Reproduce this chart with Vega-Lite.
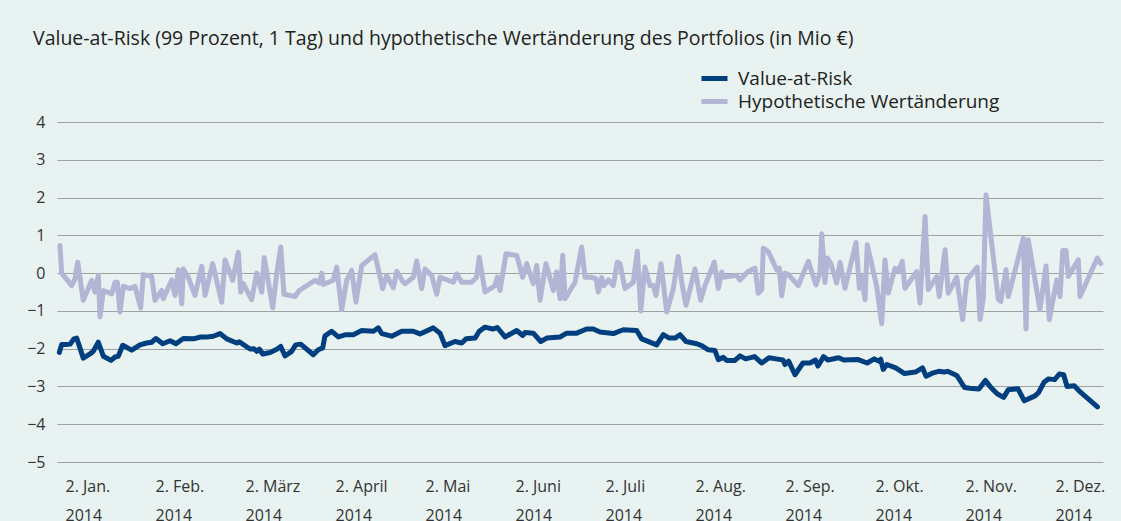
{
  "$schema": "https://vega.github.io/schema/vega-lite/v6.json",
  "autosize": "none",
  "width": 1046,
  "height": 340,
  "padding": {"left": 57, "top": 122, "right": 18, "bottom": 59},
  "background": "#e8f2f0",
  "config": {
    "view": {"stroke": null},
    "font": "Open Sans"
  },
  "title": {
    "text": "Value-at-Risk (99 Prozent, 1 Tag) und hypothetische Wertänderung des Portfolios (in Mio €)",
    "anchor": "start",
    "frame": "group",
    "dx": -24,
    "offset": 2,
    "baseline": "alphabetic",
    "fontSize": 19.5,
    "fontWeight": 500,
    "color": "#222222"
  },
  "data": {
    "values": [
      {"s":"H","t":-0.056,"v":0.73},{"s":"H","t":-0.037,"v":0},{"s":"H","t":0.074,"v":-0.33},{"s":"H","t":0.111,"v":-0.15},{"s":"H","t":0.141,"v":0.29},{"s":"H","t":0.203,"v":-0.72},{"s":"H","t":0.297,"v":-0.19},{"s":"H","t":0.333,"v":-0.5},{"s":"H","t":0.37,"v":-0.06},{"s":"H","t":0.389,"v":-1.16},{"s":"H","t":0.426,"v":-0.46},{"s":"H","t":0.519,"v":-0.55},{"s":"H","t":0.556,"v":-0.24},{"s":"H","t":0.581,"v":-0.24},{"s":"H","t":0.611,"v":-1.03},{"s":"H","t":0.648,"v":-0.35},{"s":"H","t":0.722,"v":-0.41},{"s":"H","t":0.778,"v":-0.35},{"s":"H","t":0.841,"v":-0.92},{"s":"H","t":0.87,"v":-0.04},{"s":"H","t":0.963,"v":-0.09},{"s":"H","t":1.0,"v":-0.72},{"s":"H","t":1.074,"v":-0.46},{"s":"H","t":1.092,"v":-0.68},{"s":"H","t":1.186,"v":-0.18},{"s":"H","t":1.222,"v":-0.59},{"s":"H","t":1.259,"v":0.09},{"s":"H","t":1.297,"v":-0.81},{"s":"H","t":1.314,"v":0.11},{"s":"H","t":1.37,"v":-0.11},{"s":"H","t":1.444,"v":-0.59},{"s":"H","t":1.519,"v":0.18},{"s":"H","t":1.556,"v":-0.59},{"s":"H","t":1.641,"v":0.25},{"s":"H","t":1.741,"v":-0.77},{"s":"H","t":1.778,"v":0.35},{"s":"H","t":1.863,"v":-0.19},{"s":"H","t":1.926,"v":0.55},{"s":"H","t":1.952,"v":-0.5},{"s":"H","t":1.981,"v":-0.28},{"s":"H","t":2.074,"v":-0.7},{"s":"H","t":2.13,"v":0},{"s":"H","t":2.186,"v":-0.5},{"s":"H","t":2.214,"v":0.41},{"s":"H","t":2.308,"v":-0.92},{"s":"H","t":2.352,"v":-0.02},{"s":"H","t":2.397,"v":0.69},{"s":"H","t":2.433,"v":-0.56},{"s":"H","t":2.556,"v":-0.62},{"s":"H","t":2.603,"v":-0.46},{"s":"H","t":2.778,"v":-0.19},{"s":"H","t":2.826,"v":-0.26},{"s":"H","t":2.852,"v":0},{"s":"H","t":2.87,"v":-0.3},{"s":"H","t":2.981,"v":-0.19},{"s":"H","t":3.019,"v":0.16},{"s":"H","t":3.074,"v":-0.97},{"s":"H","t":3.13,"v":-0.19},{"s":"H","t":3.186,"v":0.07},{"s":"H","t":3.233,"v":-0.77},{"s":"H","t":3.297,"v":0.2},{"s":"H","t":3.444,"v":0.49},{"s":"H","t":3.53,"v":-0.41},{"s":"H","t":3.574,"v":-0.06},{"s":"H","t":3.648,"v":-0.39},{"s":"H","t":3.686,"v":0.05},{"s":"H","t":3.759,"v":-0.24},{"s":"H","t":3.778,"v":-0.28},{"s":"H","t":3.87,"v":-0.11},{"s":"H","t":3.908,"v":0.32},{"s":"H","t":3.963,"v":-0.41},{"s":"H","t":4.0,"v":0.11},{"s":"H","t":4.074,"v":-0.06},{"s":"H","t":4.13,"v":-0.56},{"s":"H","t":4.167,"v":-0.11},{"s":"H","t":4.314,"v":-0.24},{"s":"H","t":4.352,"v":-0.02},{"s":"H","t":4.408,"v":-0.24},{"s":"H","t":4.519,"v":-0.24},{"s":"H","t":4.574,"v":-0.11},{"s":"H","t":4.603,"v":0.42},{"s":"H","t":4.667,"v":-0.5},{"s":"H","t":4.778,"v":-0.33},{"s":"H","t":4.803,"v":-0.11},{"s":"H","t":4.833,"v":-0.46},{"s":"H","t":4.9,"v":0.51},{"s":"H","t":5.019,"v":0.47},{"s":"H","t":5.086,"v":-0.11},{"s":"H","t":5.13,"v":0.25},{"s":"H","t":5.203,"v":-0.28},{"s":"H","t":5.241,"v":0.2},{"s":"H","t":5.278,"v":-0.72},{"s":"H","t":5.344,"v":0.25},{"s":"H","t":5.426,"v":-0.46},{"s":"H","t":5.463,"v":0.03},{"s":"H","t":5.5,"v":-0.68},{"s":"H","t":5.53,"v":0.47},{"s":"H","t":5.556,"v":-0.68},{"s":"H","t":5.667,"v":-0.24},{"s":"H","t":5.741,"v":0.69},{"s":"H","t":5.778,"v":-0.11},{"s":"H","t":5.852,"v":-0.11},{"s":"H","t":5.9,"v":-0.15},{"s":"H","t":5.926,"v":-0.5},{"s":"H","t":5.963,"v":-0.12},{"s":"H","t":5.989,"v":-0.33},{"s":"H","t":6.037,"v":-0.18},{"s":"H","t":6.092,"v":-0.33},{"s":"H","t":6.137,"v":0.29},{"s":"H","t":6.167,"v":0.25},{"s":"H","t":6.222,"v":-0.41},{"s":"H","t":6.314,"v":-0.24},{"s":"H","t":6.359,"v":0.58},{"s":"H","t":6.397,"v":-1.0},{"s":"H","t":6.444,"v":0.16},{"s":"H","t":6.5,"v":-0.33},{"s":"H","t":6.537,"v":-0.33},{"s":"H","t":6.567,"v":-0.59},{"s":"H","t":6.622,"v":0.25},{"s":"H","t":6.686,"v":-1.03},{"s":"H","t":6.759,"v":-0.41},{"s":"H","t":6.814,"v":0.44},{"s":"H","t":6.852,"v":-0.24},{"s":"H","t":6.9,"v":-0.85},{"s":"H","t":7.0,"v":0.11},{"s":"H","t":7.063,"v":-0.72},{"s":"H","t":7.111,"v":-0.33},{"s":"H","t":7.214,"v":0.29},{"s":"H","t":7.259,"v":-0.41},{"s":"H","t":7.297,"v":0.03},{"s":"H","t":7.314,"v":-0.11},{"s":"H","t":7.463,"v":-0.06},{"s":"H","t":7.5,"v":-0.18},{"s":"H","t":7.592,"v":0.05},{"s":"H","t":7.667,"v":0.13},{"s":"H","t":7.703,"v":-0.53},{"s":"H","t":7.741,"v":-0.44},{"s":"H","t":7.759,"v":0.66},{"s":"H","t":7.814,"v":0.57},{"s":"H","t":7.908,"v":0.09},{"s":"H","t":7.937,"v":0.13},{"s":"H","t":7.963,"v":-0.6},{"s":"H","t":8.0,"v":0},{"s":"H","t":8.037,"v":-0.04},{"s":"H","t":8.148,"v":-0.33},{"s":"H","t":8.259,"v":0.31},{"s":"H","t":8.344,"v":-0.31},{"s":"H","t":8.389,"v":0},{"s":"H","t":8.408,"v":1.04},{"s":"H","t":8.444,"v":-0.25},{"s":"H","t":8.47,"v":0.4},{"s":"H","t":8.508,"v":0.26},{"s":"H","t":8.574,"v":-0.26},{"s":"H","t":8.611,"v":0.28},{"s":"H","t":8.667,"v":-0.4},{"s":"H","t":8.789,"v":0.81},{"s":"H","t":8.826,"v":-0.4},{"s":"H","t":8.852,"v":-0.09},{"s":"H","t":8.889,"v":-0.7},{"s":"H","t":8.914,"v":0.75},{"s":"H","t":9.019,"v":-0.35},{"s":"H","t":9.074,"v":-1.34},{"s":"H","t":9.111,"v":0.35},{"s":"H","t":9.148,"v":-0.53},{"s":"H","t":9.222,"v":0.13},{"s":"H","t":9.259,"v":0.04},{"s":"H","t":9.303,"v":0.31},{"s":"H","t":9.333,"v":-0.4},{"s":"H","t":9.463,"v":0.04},{"s":"H","t":9.5,"v":-0.79},{"s":"H","t":9.556,"v":1.5},{"s":"H","t":9.592,"v":-0.44},{"s":"H","t":9.686,"v":-0.09},{"s":"H","t":9.714,"v":-0.62},{"s":"H","t":9.778,"v":0.62},{"s":"H","t":9.814,"v":-0.53},{"s":"H","t":9.908,"v":-0.11},{"s":"H","t":9.974,"v":-1.23},{"s":"H","t":10.019,"v":-0.18},{"s":"H","t":10.137,"v":0.16},{"s":"H","t":10.167,"v":-1.23},{"s":"H","t":10.203,"v":-0.66},{"s":"H","t":10.233,"v":2.07},{"s":"H","t":10.37,"v":-0.69},{"s":"H","t":10.397,"v":-0.75},{"s":"H","t":10.456,"v":0.09},{"s":"H","t":10.481,"v":-0.62},{"s":"H","t":10.648,"v":0.92},{"s":"H","t":10.678,"v":-1.48},{"s":"H","t":10.703,"v":0.88},{"s":"H","t":10.833,"v":-0.97},{"s":"H","t":10.9,"v":0.19},{"s":"H","t":10.937,"v":-1.23},{"s":"H","t":11.019,"v":-0.18},{"s":"H","t":11.056,"v":-0.62},{"s":"H","t":11.086,"v":0.6},{"s":"H","t":11.122,"v":0.6},{"s":"H","t":11.148,"v":-0.09},{"s":"H","t":11.259,"v":0.35},{"s":"H","t":11.278,"v":-0.62},{"s":"H","t":11.47,"v":0.4},{"s":"H","t":11.508,"v":0.25},
      {"s":"V","t":-0.063,"v":-2.1},{"s":"V","t":-0.037,"v":-1.89},{"s":"V","t":0.011,"v":-1.89},{"s":"V","t":0.056,"v":-1.88},{"s":"V","t":0.1,"v":-1.74},{"s":"V","t":0.13,"v":-1.72},{"s":"V","t":0.203,"v":-2.25},{"s":"V","t":0.278,"v":-2.14},{"s":"V","t":0.314,"v":-2.07},{"s":"V","t":0.37,"v":-1.83},{"s":"V","t":0.426,"v":-2.2},{"s":"V","t":0.511,"v":-2.31},{"s":"V","t":0.556,"v":-2.22},{"s":"V","t":0.592,"v":-2.2},{"s":"V","t":0.641,"v":-1.91},{"s":"V","t":0.741,"v":-2.04},{"s":"V","t":0.833,"v":-1.9},{"s":"V","t":0.908,"v":-1.85},{"s":"V","t":0.963,"v":-1.83},{"s":"V","t":1.011,"v":-1.73},{"s":"V","t":1.086,"v":-1.87},{"s":"V","t":1.167,"v":-1.79},{"s":"V","t":1.233,"v":-1.87},{"s":"V","t":1.314,"v":-1.73},{"s":"V","t":1.426,"v":-1.74},{"s":"V","t":1.508,"v":-1.69},{"s":"V","t":1.574,"v":-1.69},{"s":"V","t":1.648,"v":-1.67},{"s":"V","t":1.722,"v":-1.6},{"s":"V","t":1.797,"v":-1.74},{"s":"V","t":1.908,"v":-1.85},{"s":"V","t":1.937,"v":-1.82},{"s":"V","t":2.056,"v":-2.01},{"s":"V","t":2.1,"v":-2.0},{"s":"V","t":2.13,"v":-2.07},{"s":"V","t":2.159,"v":-2.01},{"s":"V","t":2.197,"v":-2.14},{"s":"V","t":2.278,"v":-2.1},{"s":"V","t":2.359,"v":-2.01},{"s":"V","t":2.397,"v":-1.94},{"s":"V","t":2.444,"v":-2.19},{"s":"V","t":2.519,"v":-2.07},{"s":"V","t":2.563,"v":-1.9},{"s":"V","t":2.619,"v":-1.88},{"s":"V","t":2.759,"v":-2.16},{"s":"V","t":2.814,"v":-2.03},{"s":"V","t":2.863,"v":-1.98},{"s":"V","t":2.889,"v":-1.66},{"s":"V","t":2.963,"v":-1.54},{"s":"V","t":3.037,"v":-1.69},{"s":"V","t":3.122,"v":-1.63},{"s":"V","t":3.203,"v":-1.63},{"s":"V","t":3.297,"v":-1.52},{"s":"V","t":3.426,"v":-1.54},{"s":"V","t":3.481,"v":-1.45},{"s":"V","t":3.519,"v":-1.6},{"s":"V","t":3.63,"v":-1.67},{"s":"V","t":3.741,"v":-1.54},{"s":"V","t":3.87,"v":-1.54},{"s":"V","t":3.944,"v":-1.61},{"s":"V","t":4.092,"v":-1.45},{"s":"V","t":4.167,"v":-1.59},{"s":"V","t":4.222,"v":-1.92},{"s":"V","t":4.333,"v":-1.81},{"s":"V","t":4.408,"v":-1.85},{"s":"V","t":4.456,"v":-1.74},{"s":"V","t":4.556,"v":-1.72},{"s":"V","t":4.603,"v":-1.54},{"s":"V","t":4.667,"v":-1.43},{"s":"V","t":4.752,"v":-1.48},{"s":"V","t":4.803,"v":-1.44},{"s":"V","t":4.889,"v":-1.69},{"s":"V","t":5.019,"v":-1.52},{"s":"V","t":5.086,"v":-1.65},{"s":"V","t":5.111,"v":-1.57},{"s":"V","t":5.203,"v":-1.59},{"s":"V","t":5.286,"v":-1.81},{"s":"V","t":5.352,"v":-1.72},{"s":"V","t":5.5,"v":-1.69},{"s":"V","t":5.574,"v":-1.59},{"s":"V","t":5.685,"v":-1.59},{"s":"V","t":5.796,"v":-1.48},{"s":"V","t":5.87,"v":-1.48},{"s":"V","t":5.944,"v":-1.56},{"s":"V","t":6.092,"v":-1.6},{"s":"V","t":6.203,"v":-1.5},{"s":"V","t":6.352,"v":-1.52},{"s":"V","t":6.408,"v":-1.74},{"s":"V","t":6.574,"v":-1.9},{"s":"V","t":6.648,"v":-1.63},{"s":"V","t":6.714,"v":-1.72},{"s":"V","t":6.778,"v":-1.72},{"s":"V","t":6.833,"v":-1.63},{"s":"V","t":6.9,"v":-1.81},{"s":"V","t":7.019,"v":-1.87},{"s":"V","t":7.074,"v":-1.92},{"s":"V","t":7.148,"v":-2.03},{"s":"V","t":7.222,"v":-2.05},{"s":"V","t":7.259,"v":-2.29},{"s":"V","t":7.314,"v":-2.23},{"s":"V","t":7.352,"v":-2.31},{"s":"V","t":7.444,"v":-2.31},{"s":"V","t":7.5,"v":-2.19},{"s":"V","t":7.563,"v":-2.27},{"s":"V","t":7.662,"v":-2.21},{"s":"V","t":7.742,"v":-2.38},{"s":"V","t":7.822,"v":-2.24},{"s":"V","t":7.9,"v":-2.27},{"s":"V","t":7.978,"v":-2.3},{"s":"V","t":8.0,"v":-2.42},{"s":"V","t":8.04,"v":-2.33},{"s":"V","t":8.111,"v":-2.69},{"s":"V","t":8.199,"v":-2.38},{"s":"V","t":8.278,"v":-2.38},{"s":"V","t":8.338,"v":-2.3},{"s":"V","t":8.366,"v":-2.46},{"s":"V","t":8.429,"v":-2.21},{"s":"V","t":8.477,"v":-2.3},{"s":"V","t":8.596,"v":-2.24},{"s":"V","t":8.654,"v":-2.3},{"s":"V","t":8.813,"v":-2.29},{"s":"V","t":8.912,"v":-2.38},{"s":"V","t":8.992,"v":-2.27},{"s":"V","t":9.04,"v":-2.33},{"s":"V","t":9.063,"v":-2.28},{"s":"V","t":9.091,"v":-2.55},{"s":"V","t":9.131,"v":-2.42},{"s":"V","t":9.23,"v":-2.51},{"s":"V","t":9.329,"v":-2.66},{"s":"V","t":9.449,"v":-2.62},{"s":"V","t":9.528,"v":-2.51},{"s":"V","t":9.568,"v":-2.73},{"s":"V","t":9.647,"v":-2.64},{"s":"V","t":9.707,"v":-2.6},{"s":"V","t":9.766,"v":-2.62},{"s":"V","t":9.806,"v":-2.6},{"s":"V","t":9.908,"v":-2.71},{"s":"V","t":9.996,"v":-3.03},{"s":"V","t":10.054,"v":-3.05},{"s":"V","t":10.154,"v":-3.07},{"s":"V","t":10.226,"v":-2.84},{"s":"V","t":10.293,"v":-3.04},{"s":"V","t":10.361,"v":-3.2},{"s":"V","t":10.429,"v":-3.29},{"s":"V","t":10.48,"v":-3.09},{"s":"V","t":10.588,"v":-3.06},{"s":"V","t":10.659,"v":-3.38},{"s":"V","t":10.778,"v":-3.25},{"s":"V","t":10.818,"v":-3.16},{"s":"V","t":10.877,"v":-2.89},{"s":"V","t":10.929,"v":-2.8},{"s":"V","t":10.996,"v":-2.82},{"s":"V","t":11.048,"v":-2.67},{"s":"V","t":11.096,"v":-2.69},{"s":"V","t":11.134,"v":-3.0},{"s":"V","t":11.214,"v":-2.98},{"s":"V","t":11.273,"v":-3.13},{"s":"V","t":11.472,"v":-3.54}
    ]
  },
  "mark": {"type": "line", "strokeWidth": 5, "strokeJoin": "round", "strokeCap": "round"},
  "encoding": {
    "x": {
      "field": "t",
      "type": "quantitative",
      "scale": {"domain": [-0.0889, 11.5333], "nice": false, "zero": false},
      "axis": {
        "title": null,
        "values": [0,1,2,3,4,5,6,7,8,9,10,11],
        "labelExpr": "[['2. Jan.','2. Feb.','2. März','2. April','2. Mai','2. Juni','2. Juli','2. Aug.','2. Sep.','2. Okt.','2. Nov.','2. Dez.'][datum.value], '2014']",
        "labelAlign": "left",
        "labelBaseline": "top",
        "labelPadding": 16,
        "labelLineHeight": 29,
        "labelFontSize": 16,
        "labelColor": "#333333",
        "labelOverlap": false,
        "labelFlush": false,
        "labelBound": false,
        "grid": false,
        "domain": false,
        "ticks": false
      }
    },
    "y": {
      "field": "v",
      "type": "quantitative",
      "scale": {"domain": [-5, 4], "nice": false, "zero": false},
      "axis": {
        "title": null,
        "values": [-5,-4,-3,-2,-1,0,1,2,3,4],
        "grid": true,
        "gridColor": "#9da3a2",
        "gridWidth": 1,
        "domain": false,
        "ticks": false,
        "labelPadding": 12,
        "labelFontSize": 16,
        "labelColor": "#333333"
      }
    },
    "color": {
      "field": "s",
      "type": "nominal",
      "sort": ["V", "H"],
      "scale": {"domain": ["V", "H"], "range": ["#003f7f", "#b2b5d4"]},
      "legend": {
        "title": null,
        "orient": "none",
        "legendX": 645,
        "legendY": -56,
        "direction": "vertical",
        "padding": 0,
        "symbolType": "M-1.3,0H1.3",
        "symbolSize": 400,
        "symbolStrokeWidth": 5,
        "labelOffset": 11,
        "labelFontSize": 19,
        "labelLimit": 500,
        "labelColor": "#222222",
        "rowPadding": -1,
        "labelExpr": "datum.label == 'V' ? 'Value-at-Risk' : 'Hypothetische Wertänderung'"
      }
    },
    "order": {"field": "t", "type": "quantitative"}
  }
}
